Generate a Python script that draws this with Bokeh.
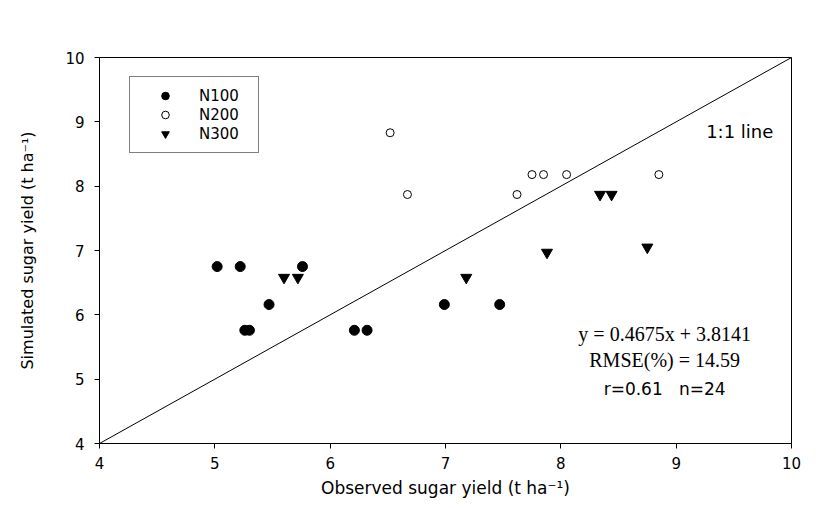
from bokeh.plotting import figure
from bokeh.models import Range1d, FixedTicker, Label
from bokeh.embed import file_html
from bokeh.resources import INLINE

# ---- data ----
n100_x = [5.02, 5.22, 5.76, 5.47, 5.26, 5.30, 6.21, 6.32, 6.99, 7.47]
n100_y = [6.75, 6.75, 6.75, 6.16, 5.76, 5.76, 5.76, 5.76, 6.16, 6.16]
n200_x = [6.52, 6.67, 7.62, 7.75, 7.85, 8.05, 8.85]
n200_y = [8.83, 7.87, 7.87, 8.18, 8.18, 8.18, 8.18]
n300_x = [5.60, 5.72, 7.18, 7.88, 8.34, 8.44, 8.75]
n300_y = [6.58, 6.58, 6.58, 6.97, 7.87, 7.87, 7.05]
one_to_one = [4, 10]
ticks = [4, 5, 6, 7, 8, 9, 10]
series_labels = ["N100", "N200", "N300"]
stats_lines = ["y = 0.4675x + 3.8141", "RMSE(%) = 14.59", "r=0.61\u00a0\u00a0\u00a0n=24"]

p = figure(width=813, height=500, output_backend="svg", toolbar_location=None,
           x_range=Range1d(4, 10), y_range=Range1d(4, 10),
           min_border_left=99, min_border_right=22, min_border_top=57, min_border_bottom=57,
           background_fill_color="white", border_fill_color="white")

p.grid.visible = False
p.outline_line_color = "black"
p.outline_line_width = 1
p.outline_line_alpha = 1

for ax in (p.xaxis[0], p.yaxis[0]):
    ax.ticker = FixedTicker(ticks=ticks)
    ax.axis_line_color = "black"
    ax.major_tick_line_color = "black"
    ax.major_tick_in = 0
    ax.major_tick_out = 5
    ax.minor_tick_line_color = None
    ax.major_label_text_font = "DejaVu Sans"
    ax.major_label_text_font_size = "15px"
    ax.major_label_text_color = "black"
    ax.axis_label_text_font = "DejaVu Sans"
    ax.axis_label_text_font_style = "normal"
    ax.axis_label_text_color = "black"

p.xaxis.axis_label = "Observed sugar yield (t ha⁻¹)"
p.xaxis.axis_label_text_font_size = "17px"
p.xaxis.major_label_standoff = 8
p.xaxis.axis_label_standoff = 6

p.yaxis.axis_label = "Simulated sugar yield (t ha⁻¹)"
p.yaxis.axis_label_text_font_size = "16px"
p.yaxis.major_label_standoff = 10
p.yaxis.axis_label_standoff = 25

# 1:1 line
p.line(one_to_one, one_to_one, line_color="black", line_width=1)

p.scatter(n100_x, n100_y, marker="circle", size=10, fill_color="black", line_color="black",
          legend_label=series_labels[0])
p.scatter(n200_x, n200_y, marker="circle", size=8, fill_color="white", line_color="black",
          line_width=1, legend_label=series_labels[1])
p.scatter(n300_x, n300_y, marker="inverted_triangle", size=11, fill_color="black",
          line_color="black", legend_label=series_labels[2])

leg = p.legend[0]
leg.location = (30, 290)
leg.padding = 9
leg.margin = 0
leg.spacing = 0
leg.glyph_width = 52
leg.glyph_height = 19
leg.label_height = 19
leg.label_width = 50
leg.label_standoff = 8
leg.border_line_color = "black"
leg.border_line_width = 1
leg.background_fill_color = "white"
leg.background_fill_alpha = 1
leg.label_text_font = "DejaVu Sans"
leg.label_text_font_size = "15px"
leg.label_text_color = "black"

p.add_layout(Label(x=9.26, y=8.845, text="1:1 line", text_align="left", text_baseline="middle",
                   text_font="DejaVu Sans", text_font_size="18px", text_color="black"))

stats_x = 8.90
stats_y = [5.705, 5.293, 4.853]
stats_fonts = ["Liberation Serif", "Liberation Serif", "DejaVu Sans"]
stats_sizes = ["20px", "20px", "17px"]
for t, yy, f, s in zip(stats_lines, stats_y, stats_fonts, stats_sizes):
    p.add_layout(Label(x=stats_x, y=yy, text=t, text_align="center", text_baseline="middle",
                       text_font=f, text_font_size=s, text_color="black"))

open("out.html", "w").write(file_html(p, INLINE))
